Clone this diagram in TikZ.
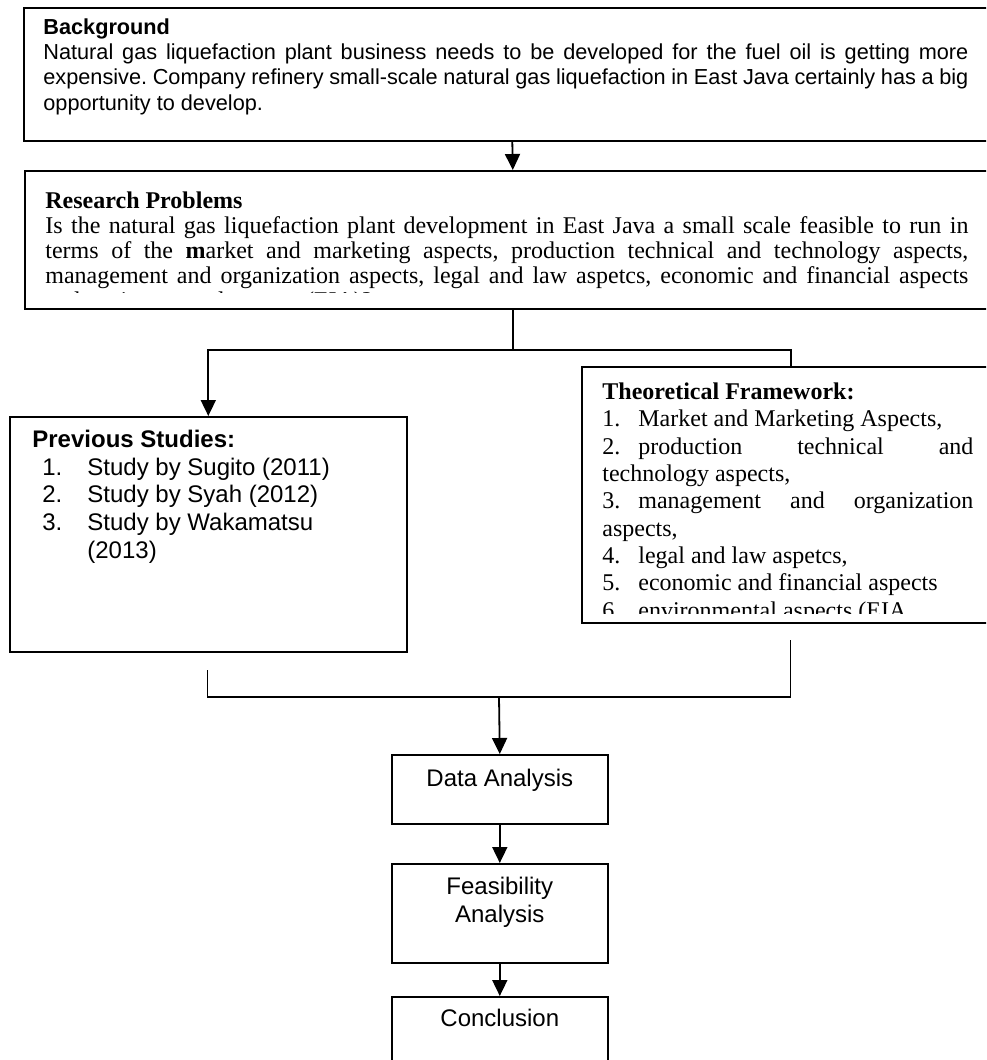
\documentclass[tikz,border=0pt]{standalone}
\usepackage{fontspec}
\setmainfont{Liberation Serif}
\setsansfont{Liberation Sans}
\usetikzlibrary{positioning,arrows.meta}
\frenchspacing

\begin{document}
\begin{tikzpicture}[x=0.5pt, y=-0.5pt,
  box/.style={draw, line width=0.8pt, inner sep=0pt, anchor=north west},
  txt/.style={inner sep=0pt, anchor=north west, align=left},
  flowtxt/.style={inner sep=0pt, align=center, font=\sffamily\fontsize{12}{13.8}\selectfont},
  arr/.style={-{Triangle[length=8pt,width=7.5pt]}, line width=0.9pt},
  link/.style={line width=0.9pt}]
\path[use as bounding box] (0,0) rectangle (986,1060);
\clip (0,0) rectangle (986,1060);

% boxes
\node[box, minimum width=488.5pt, minimum height=66.5pt] (bg) at (23,7) {};
\node[box, minimum width=488pt, minimum height=69pt] (rp) at (24,170) {};
\node[box, minimum width=198.5pt, minimum height=117.5pt] (ps) at (9,416) {};
\node[box, minimum width=209.5pt, minimum height=128pt] (tf) at (581,366) {};
\node[box, minimum width=108pt, minimum height=34.5pt] (da) at (391,754) {};
\node[box, minimum width=108pt, minimum height=49.5pt] (fa) at (391,863) {};
\node[box, minimum width=108pt, minimum height=42pt] (cc) at (391,996) {};

% texts
\node[txt, font=\sffamily\fontsize{10.85}{12.65}\selectfont, below right=5.5pt and 10pt of bg.north west] (bgtxt)
  {\textbf{Background}\\
   \makebox[462.5pt][s]{Natural gas liquefaction plant business needs to be developed for the fuel oil is getting more}\\
   \makebox[462.5pt][s]{expensive. Company refinery small-scale natural gas liquefaction in East Java certainly has a big}\\
   opportunity to develop.};

\begin{scope}
\clip (rp.north west) rectangle ([yshift=8.5pt]rp.south east);
\node[txt, font=\rmfamily\fontsize{12}{12.5}\selectfont, below right=10.8pt and 10.5pt of rp.north west] (rptxt)
  {\textbf{Research Problems}\\
   \makebox[461.5pt][s]{Is the natural gas liquefaction plant development in East Java a small scale feasible to run in}\\
   \makebox[461.5pt][s]{terms of the \textbf{m}arket and marketing aspects, production technical and technology aspects,}\\
   \makebox[461.5pt][s]{management and organization aspects, legal and law aspetcs, economic and financial aspects}\\
   and environmental aspects (EIA)?};
\end{scope}

\node[txt, font=\sffamily\fontsize{12}{13.8}\selectfont, below right=7pt and 11.5pt of ps.north west] (pstxt)
  {\textbf{Previous Studies:}\\
   \hspace*{5pt}\makebox[22.5pt][l]{1.}Study by Sugito (2011)\\
   \hspace*{5pt}\makebox[22.5pt][l]{2.}Study by Syah (2012)\\
   \hspace*{5pt}\makebox[22.5pt][l]{3.}Study by Wakamatsu\\
   \hspace*{27.5pt}(2013)};

\begin{scope}
\clip (tf.north west) rectangle ([yshift=5pt]tf.south east);
\node[txt, font=\rmfamily\fontsize{12}{13.65}\selectfont, below right=8.3pt and 10.5pt of tf.north west] (tftxt)
  {\textbf{Theoretical Framework:}\\
   \makebox[18pt][l]{1.}Market and Marketing Aspects,\\
   \makebox[18pt][l]{2.}\makebox[167.5pt][s]{production technical and}\\
   technology aspects,\\
   \makebox[18pt][l]{3.}\makebox[167.5pt][s]{management and organization}\\
   aspects,\\
   \makebox[18pt][l]{4.}legal and law aspetcs,\\
   \makebox[18pt][l]{5.}economic and financial aspects\\
   \makebox[18pt][l]{6.}environmental aspects (EIA};
\end{scope}

\node[flowtxt, below=7.5pt of da.north] (datxt) {Data Analysis};
\node[flowtxt, below=7pt of fa.north] (fatxt) {Feasibility\\Analysis};
\node[flowtxt, below=6.5pt of cc.north] (cctxt) {Conclusion};

% connectors
\coordinate (forky) at (0,350);
\coordinate (lstub) at (207.5,670);
\coordinate (rstub) at (790.5,640);
\coordinate (merge) at (499,697);
\draw[arr] (bg.south) -- (rp.north);
\draw[link] (rp.south) -- (rp.south |- forky);
\draw[arr] (rp.south |- forky) -| (ps.north);
\draw[link] (rp.south |- forky) -| (tf.north);
\draw[link] (lstub) |- (merge) -| (rstub);
\draw[arr] (merge) -- (da.north);
\draw[arr] (da) -- (fa);
\draw[arr] (fa) -- (cc);
\end{tikzpicture}
\end{document}
